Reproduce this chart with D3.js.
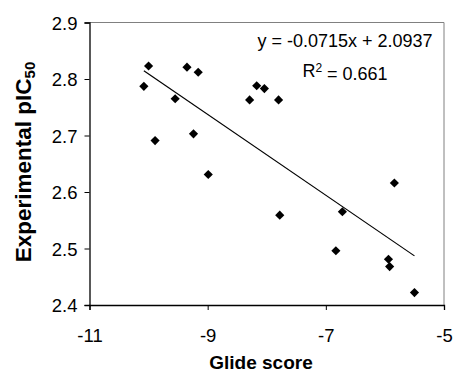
<!DOCTYPE html>
<html>
<head>
<meta charset="utf-8">
<script src="https://cdn.jsdelivr.net/npm/d3@7"></script>
<style>
  body { margin: 0; background: #fff; }
  text { font-family: "Liberation Sans", Arial, sans-serif; fill: #000; }
</style>
</head>
<body>
<svg id="chart"></svg>
<script>
//////////////// Daten ////////////////////
const glideScore = [-10.08, -10.0, -9.89, -9.55, -9.35, -9.16, -9.24, -8.99,
  -8.29, -8.17, -8.04, -7.8, -7.78, -6.83, -6.72, -5.94, -5.92, -5.84, -5.5];
const pIC50 = [2.787, 2.823, 2.691, 2.765, 2.821, 2.812, 2.703, 2.631,
  2.763, 2.788, 2.783, 2.763, 2.559, 2.496, 2.565, 2.481, 2.468, 2.616, 2.422];
const xTicks = [-11, -9, -7, -5];
const yTicks = [2.4, 2.5, 2.6, 2.7, 2.8, 2.9];
const trend = {slope: -0.0715, intercept: 2.0937, r2: 0.661};

//////////////// Konstanten ////////////////////
const W = 455, H = 373;
const margin = {top: 22.5, right: 11, bottom: 68, left: 89.5},
  width = W - margin.left - margin.right,
  height = H - margin.top - margin.bottom;

const svg = d3.select("#chart").attr("width", W).attr("height", H);
const g = svg.append("g")
  .attr("transform", "translate(" + margin.left + "," + margin.top + ")");

const x = d3.scaleLinear().domain([-11, -5]).range([0, width]);
const y = d3.scaleLinear().domain([2.4, 2.9]).range([height, 0]);

// Rahmen oben/rechts grau
g.append("path")
  .attr("d", "M0,0H" + width + "V" + height)
  .attr("fill", "none").attr("stroke", "#808080").attr("stroke-width", 1);

// Achsen
const xAxis = g.append("g")
  .attr("transform", "translate(0," + height + ")")
  .call(d3.axisBottom(x).tickValues(xTicks).tickSize(5).tickPadding(16));
const yAxis = g.append("g")
  .call(d3.axisLeft(y).tickValues(yTicks).tickSize(5).tickPadding(7).tickFormat(d3.format(".1f")));
[xAxis, yAxis].forEach(function(a) {
  a.select(".domain").attr("stroke", "#000").attr("stroke-width", 1.3);
  a.selectAll(".tick line").attr("stroke", "#000");
  a.selectAll("text").style("font-size", "18.5px").style("font-family", "Liberation Sans, Arial, sans-serif");
});
xAxis.selectAll("text").attr("dy", "0.85em");
xAxis.selectAll(".tick text").text(function(d) { return String(d); });
yAxis.selectAll(".tick text").attr("dy", "0.36em");

// Trendlinie
const xr = d3.extent(glideScore);
g.append("line")
  .attr("x1", x(xr[0])).attr("y1", y(trend.slope * xr[0] + trend.intercept))
  .attr("x2", x(xr[1])).attr("y2", y(trend.slope * xr[1] + trend.intercept))
  .attr("stroke", "#000").attr("stroke-width", 1.2);

// Punkte (Rauten)
const diamond = d3.symbol().type(d3.symbolSquare).size(42);
g.selectAll("path.pt")
  .data(d3.range(glideScore.length))
  .enter().append("path")
  .attr("class", "pt")
  .attr("d", diamond)
  .attr("transform", function(i) {
    return "translate(" + x(glideScore[i]) + "," + y(pIC50[i]) + ") rotate(45)";
  })
  .attr("fill", "#000");

// Gleichung
const eq = g.append("text")
  .attr("x", 345 - margin.left).attr("y", 46.5 - margin.top)
  .attr("text-anchor", "middle").style("font-size", "18px")
  .text("y = " + trend.slope + "x + " + trend.intercept);
const r2 = g.append("text")
  .attr("x", 345 - margin.left).attr("y", 77 - margin.top)
  .attr("text-anchor", "middle").style("font-size", "18px");
r2.append("tspan").text("R");
r2.append("tspan").attr("dy", "-0.45em").style("font-size", "12px").text("2");
r2.append("tspan").attr("dy", "0.45em").text(" = " + trend.r2);

// Achsentitel
svg.append("text")
  .attr("x", 261).attr("y", 369)
  .attr("text-anchor", "middle")
  .style("font-size", "19px").style("font-weight", "bold")
  .text("Glide score");
const yt = svg.append("text")
  .attr("transform", "translate(31,162) rotate(-90)")
  .attr("text-anchor", "middle")
  .style("font-size", "22.5px").style("font-weight", "bold");
yt.append("tspan").text("Experimental pIC");
yt.append("tspan").attr("dy", "0.25em").style("font-size", "15px").text("50");
</script>
</body>
</html>
